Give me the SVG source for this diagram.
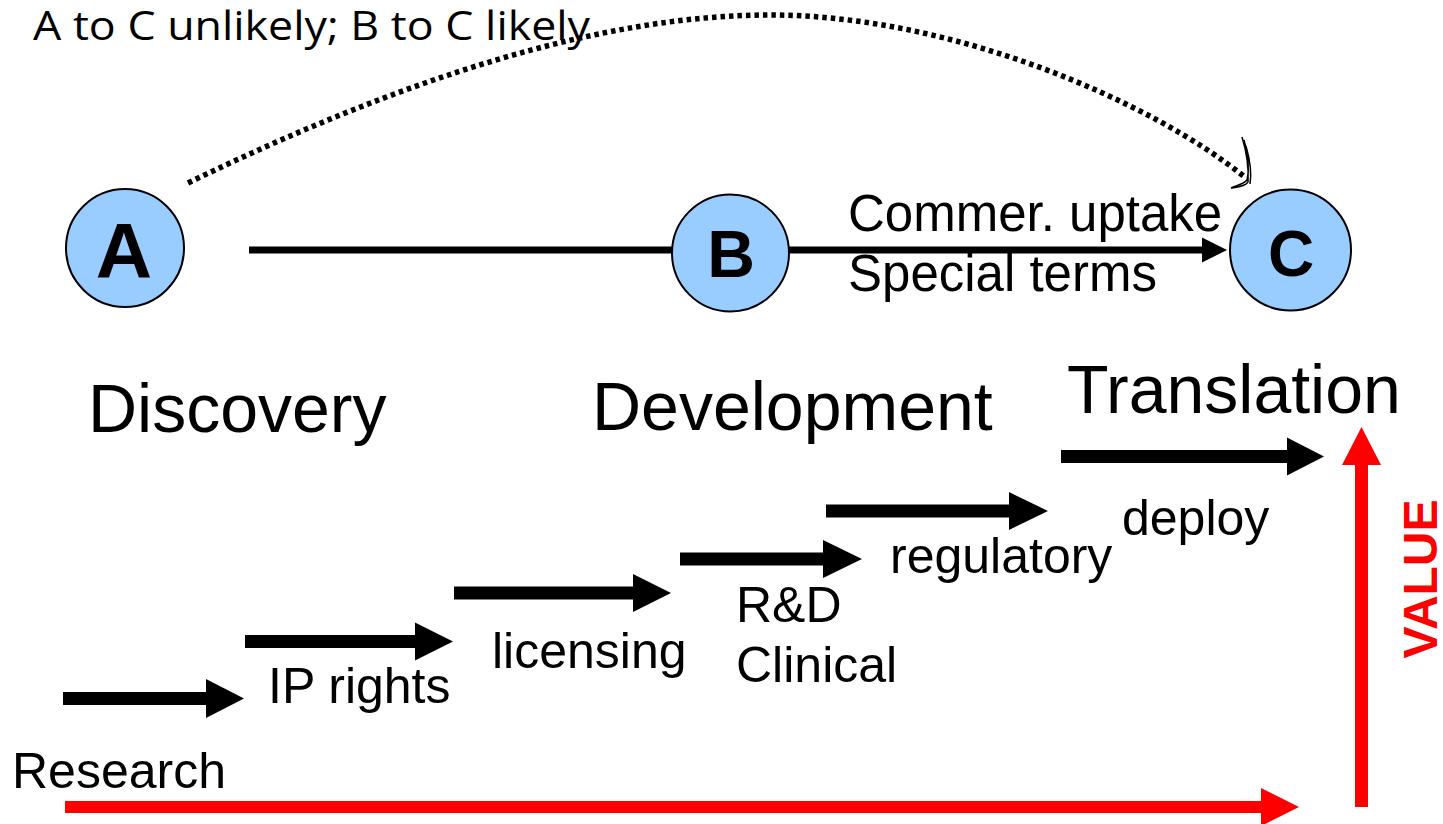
<svg xmlns="http://www.w3.org/2000/svg" width="1443" height="824" viewBox="0 0 1443 824">
  <style>
    .node circle { fill: #99ccff; stroke: #000; stroke-width: 2; }
    .node text { font-family: "Liberation Sans", Arial, sans-serif; font-weight: bold; fill: #000; text-anchor: middle; }
    .lbl { font-family: "Liberation Sans", Arial, sans-serif; font-size: 50px; fill: #000; }
    .lbl2 { font-family: "Liberation Sans", Arial, sans-serif; font-size: 51px; fill: #000; }
    .big { font-family: "Liberation Sans", Arial, sans-serif; font-size: 68px; fill: #000; }
    .note { font-family: "Open Sans", Lato, sans-serif; font-size: 40px; fill: #000; }
    .step { fill: #000; }
    .red { fill: #ff0000; }
  </style>

  <!-- connectors -->
  <g id="connectors">
    <!-- A to B plain line -->
    <rect x="249" y="246.5" width="430" height="7" fill="#000"/>
    <!-- B to C arrow -->
    <rect x="785" y="246.5" width="418" height="7" fill="#000"/>
    <polygon points="1202,237.5 1227,250 1202,262.5" fill="#000"/>
    <!-- A to C dotted arc -->
    <path d="M188,183 C400,80 600,15 770,15 C950,15 1150,100 1246,178" fill="none" stroke="#000" stroke-width="5.5" stroke-dasharray="4.5 4"/>
    <!-- hand-drawn arrow tip at C -->
    <path d="M1242,137 C1246,150 1249,165 1248,182 C1246,186 1238,187 1231,188 C1238,185 1244,184 1247,180 C1250,168 1247,150 1244,140 M1246,146 C1250,160 1252,172 1250,184" fill="none" stroke="#000" stroke-width="1.5"/>
  </g>

  <!-- nodes -->
  <g id="node-a" class="node">
    <circle cx="125" cy="248" r="59"/>
    <text x="124" y="278" font-size="78">A</text>
  </g>
  <g id="node-b" class="node">
    <circle cx="730.5" cy="253" r="58.5"/>
    <text x="731" y="277" font-size="66">B</text>
  </g>
  <g id="node-c" class="node">
    <circle cx="1290.5" cy="250" r="60.5"/>
    <text x="1291" y="276" font-size="64">C</text>
  </g>

  <!-- texts -->
  <g id="labels">
    <text class="note" x="33" y="40" textLength="557" lengthAdjust="spacingAndGlyphs">A to C unlikely; B to C likely</text>
    <text class="lbl2" x="848" y="231">Commer. uptake</text>
    <text class="lbl2" x="848" y="291">Special terms</text>
    <text class="big" x="88" y="432">Discovery</text>
    <text class="big" x="592" y="430">Development</text>
    <text class="big" x="1067" y="413">Translation</text>
  </g>

  <!-- stepped process arrows -->
  <g id="steps">
    <g id="step-research">
      <rect class="step" x="63" y="692" width="145" height="13"/>
      <polygon class="step" points="206,679 244,698.5 206,718"/>
      <text class="lbl" x="12" y="788">Research</text>
    </g>
    <g id="step-ip">
      <rect class="step" x="245" y="635" width="172" height="13"/>
      <polygon class="step" points="415,622.5 453,641.5 415,660.5"/>
      <text class="lbl" x="268" y="703">IP rights</text>
    </g>
    <g id="step-licensing">
      <rect class="step" x="454" y="586.5" width="181" height="13"/>
      <polygon class="step" points="633,574 671,593 633,612"/>
      <text class="lbl" x="492" y="668">licensing</text>
    </g>
    <g id="step-rnd">
      <rect class="step" x="680" y="552.5" width="145" height="13"/>
      <polygon class="step" points="823,540 862,559 823,578"/>
      <text class="lbl" x="736" y="622">R&amp;D</text>
      <text class="lbl" x="736" y="682">Clinical</text>
    </g>
    <g id="step-regulatory">
      <rect class="step" x="826" y="504.5" width="185" height="13"/>
      <polygon class="step" points="1009,492 1048,511 1009,530"/>
      <text class="lbl" x="890" y="573">regulatory</text>
    </g>
    <g id="step-deploy">
      <rect class="step" x="1061" y="450" width="228" height="13"/>
      <polygon class="step" points="1287,437.5 1324,456.5 1287,475.5"/>
      <text class="lbl" x="1122" y="535">deploy</text>
    </g>
  </g>

  <!-- value axes -->
  <g id="value-axes">
    <rect class="red" x="65" y="801" width="1198" height="12"/>
    <polygon class="red" points="1261,788 1299,807 1261,826"/>
    <rect class="red" x="1355" y="463" width="13" height="344"/>
    <polygon class="red" points="1342,465 1361.5,427 1381,465"/>
    <text transform="translate(1437,579) rotate(-90)" text-anchor="middle" font-family="'Liberation Sans', Arial, sans-serif" font-weight="bold" font-size="48" fill="#ff0000">VALUE</text>
  </g>
</svg>
